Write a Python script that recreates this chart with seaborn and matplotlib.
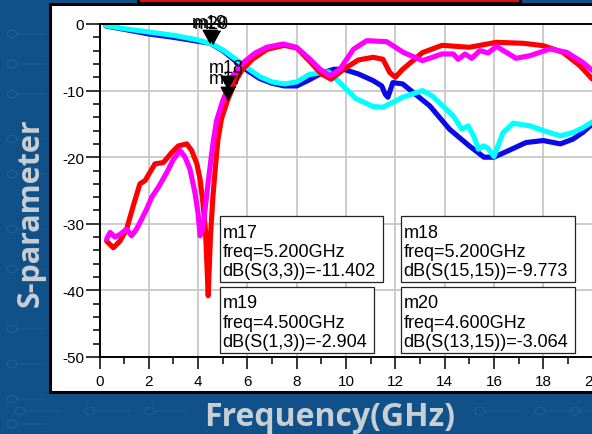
import numpy as np
import pandas as pd
import matplotlib
matplotlib.use("Agg")
import matplotlib.pyplot as plt
import seaborn as sns
from matplotlib.patches import Rectangle, Circle
from matplotlib.lines import Line2D

# ---------------- data ----------------
blue_x = [0.26, 1.0, 2.0, 3.0, 4.0, 4.5, 5.0, 5.5, 6.0, 6.5, 7.0, 7.5, 8.0, 8.5, 9.0,
          9.5, 9.9, 10.5, 11.1, 11.45, 11.6, 11.7, 11.9, 12.3, 12.8, 13.4, 14.2, 15.0,
          15.6, 16.0, 16.6, 17.3, 18.0, 18.7, 19.2, 19.6, 20.0]
blue_y = [-0.3, -0.8, -1.5, -2.0, -2.6, -2.9, -4.0, -5.5, -7.0, -8.2, -8.9, -9.3, -9.3,
          -8.4, -7.4, -6.8, -6.8, -7.5, -8.5, -9.3, -10.6, -11.0, -8.8, -9.0, -10.5,
          -12.3, -15.8, -18.3, -20.0, -20.0, -19.0, -17.8, -17.5, -18.0, -17.3, -16.3, -15.0]

cyan_x = [0.26, 1.0, 2.0, 3.0, 4.0, 4.6, 5.0, 5.5, 6.0, 6.5, 7.0, 7.5, 8.0, 8.5, 9.0,
          9.3, 9.75, 10.4, 11.1, 11.5, 12.3, 13.1, 13.5, 14.35, 14.7, 14.96, 15.2,
          15.37, 15.57, 15.75, 16.0, 16.37, 16.78, 17.47, 18.0, 18.7, 19.2, 19.6, 20.0]
cyan_y = [-0.25, -0.7, -1.2, -1.7, -2.4, -3.064, -3.9, -5.2, -6.6, -7.9, -8.7, -9.0, -8.7,
          -7.6, -7.3, -7.2, -8.8, -11.2, -12.4, -12.5, -11.0, -10.0, -10.8, -13.8, -15.8,
          -15.3, -17.0, -18.8, -18.3, -18.6, -19.9, -16.3, -14.9, -15.3, -16.0, -16.8,
          -16.3, -15.6, -14.7]

red_x = [0.29, 0.56, 0.83, 1.1, 1.37, 1.64, 1.85, 2.25, 2.59, 2.93, 3.2, 3.54, 3.74,
         3.95, 4.08, 4.2, 4.3, 4.41, 4.5, 4.6, 4.7, 4.8, 4.95, 5.2, 5.5, 5.8, 6.2, 6.8,
         7.5, 8.0, 8.5, 9.0, 9.4, 9.9, 10.5, 11.1, 11.5, 11.78, 12.0, 12.3, 13.1, 13.9,
         15.0, 16.1, 17.2, 18.0, 18.8, 19.5, 20.0]
red_y = [-32.6, -33.6, -32.6, -30.8, -27.3, -24.0, -23.5, -21.0, -20.8, -19.3, -18.3,
         -18.0, -19.0, -21.0, -23.3, -27.0, -31.0, -40.8, -32.0, -26.0, -21.5, -17.5,
         -14.2, -11.402, -8.7, -6.8, -5.3, -3.8, -3.2, -3.6, -5.5, -7.5, -8.3, -6.8,
         -5.4, -5.0, -5.3, -7.3, -8.0, -6.8, -4.3, -3.2, -3.5, -2.75, -2.9, -3.25,
         -4.25, -6.3, -8.3]

mag_x = [0.29, 0.43, 0.63, 0.83, 1.1, 1.3, 1.5, 1.71, 1.91, 2.12, 2.39, 2.73, 3.0,
         3.27, 3.47, 3.67, 3.87, 4.0, 4.08, 4.2, 4.4, 4.6, 4.75, 5.0, 5.2, 5.4, 5.83,
         6.3, 6.78, 7.45, 8.0, 8.54, 8.95, 9.35, 9.75, 10.3, 10.84, 11.65, 12.32, 13.1,
         13.9, 14.35, 14.55, 14.83, 15.1, 15.43, 15.77, 16.1, 16.5, 16.9, 17.47, 18.27,
         18.95, 19.6, 20.0]
mag_y = [-32.3, -31.3, -32.0, -31.6, -30.8, -31.8, -30.8, -29.3, -27.8, -26.0, -24.5,
         -22.3, -20.3, -19.0, -20.0, -21.8, -25.3, -28.5, -31.8, -30.5, -24.0, -18.0,
         -14.5, -11.5, -9.773, -7.8, -5.8, -4.4, -3.5, -3.0, -3.5, -5.3, -6.8, -7.8,
         -6.8, -3.8, -2.5, -2.65, -4.25, -5.5, -4.5, -4.5, -5.3, -4.5, -5.15, -4.0,
         -4.35, -3.35, -4.25, -5.15, -4.75, -3.75, -4.25, -5.75, -7.0]

marker_names = ["m17", "m18", "m19", "m20"]
marker_freq = [5.2, 5.2, 4.5, 4.6]
marker_db = [-11.402, -9.773, -2.904, -3.064]
marker_expr = ["dB(S(3,3))", "dB(S(15,15))", "dB(S(1,3))", "dB(S(13,15))"]

x_ticks = [0, 2, 4, 6, 8, 10, 12, 14, 16, 18, 20]
y_ticks = [-50, -40, -30, -20, -10, 0]

# ---------------- figure ----------------
sns.set_theme(style="white")
plt.rcParams['font.family'] = ['Liberation Sans', 'DejaVu Sans']

W, H = 592, 435
BG = '#0f5188'
fig = plt.figure(figsize=(W / 100, H / 100), dpi=100, facecolor=BG)


def fx(px):
    return px / W


def fy(py):
    return 1 - py / H


def frect(x0, y0, x1, y1, **kw):
    r = Rectangle((fx(x0), fy(y1)), fx(x1) - fx(x0), fy(y0) - fy(y1),
                  transform=fig.transFigure, **kw)
    fig.patches.append(r)
    return r


# faint circuit-board texture on the blue background
PAT = '#3a78ab'
for cy in [35, 65, 95, 140, 175, 230, 270, 330, 365, 400, 425]:
    fig.patches.append(Circle((fx(12), fy(cy)), 5 / W, transform=fig.transFigure,
                              facecolor='none', edgecolor=PAT, lw=1.1, alpha=0.3, zorder=-9))
    fig.lines.append(Line2D([fx(17), fx(45)], [fy(cy), fy(cy)], transform=fig.transFigure,
                            color=PAT, lw=1.1, alpha=0.22, zorder=-9))
for cx in [20, 90, 150, 480, 540, 575]:
    fig.patches.append(Circle((fx(cx), fy(412)), 5 / W, transform=fig.transFigure,
                              facecolor='none', edgecolor=PAT, lw=1.1, alpha=0.3, zorder=-9))
    fig.lines.append(Line2D([fx(cx + 5), fx(cx + 40)], [fy(412), fy(412)],
                            transform=fig.transFigure, color=PAT, lw=1.1, alpha=0.2, zorder=-9))

# white panel and red header strip
frect(50, 5, 640, 393, facecolor='white', edgecolor='black', lw=2.2, zorder=-5)
frect(138, -10, 520, 4, facecolor='#d81010', edgecolor='black', lw=2.0, zorder=-4)

ax = fig.add_axes([fx(99.5), fy(358), fx(592.5) - fx(99.5), fy(25) - fy(358)])
ax.set_facecolor('white')

series = [
    (blue_x, blue_y, '#0a0ae6'),
    (cyan_x, cyan_y, '#00ffff'),
    (red_x, red_y, '#ff0000'),
    (mag_x, mag_y, '#ff00ff'),
]
for xs, ys, c in series:
    df = pd.DataFrame({'freq': xs, 'db': ys})
    sns.lineplot(data=df, x='freq', y='db', color=c, lw=3.7, sort=False,
                 estimator=None, ax=ax, solid_joinstyle='round', solid_capstyle='round')

ax.set_xlim(0, 20)
ax.set_ylim(-50, 0)
ax.set_xticks(x_ticks)
ax.set_xticks(np.arange(0, 21, 1), minor=True)
ax.set_yticks(y_ticks)
ax.set_yticks(np.arange(-50, 1, 2), minor=True)
ax.set_xticklabels([str(v) for v in x_ticks])
ax.set_yticklabels([str(v) for v in y_ticks])
ax.grid(True, which='major', color='#c8c8c8', lw=1.3)
ax.set_axisbelow(True)
ax.tick_params(axis='both', which='both', direction='out', colors='black',
               labelsize=11, width=1.1, bottom=True, left=True)
ax.tick_params(axis='y', which='major', length=10, pad=1)
ax.tick_params(axis='y', which='minor', length=5)
ax.tick_params(axis='x', which='major', length=8.5, pad=4)
ax.tick_params(axis='x', which='minor', length=5)
for s in ax.spines.values():
    s.set_color('black')
    s.set_linewidth(1.4)
ax.set_xlabel('')
ax.set_ylabel('')

# marker triangles (tip at the data point) and their names
tri = [(0, 0), (-0.55, 1), (0.55, 1)]
ax.plot(marker_freq, marker_db, linestyle='none', marker=tri, markersize=19,
        color='black', clip_on=False, zorder=10)
for name, fq, db in zip(marker_names, marker_freq, marker_db):
    ax.annotate(name, (fq, db), xytext=(-1, 12), textcoords='offset points',
                ha='center', va='baseline', fontsize=13, color='black',
                zorder=11, annotation_clip=False)

# marker readout boxes
boxes = {
    'm17': (220, 217, 383, 283),
    'm18': (401, 217, 575, 283),
    'm19': (220, 288, 374, 354),
    'm20': (401, 288, 575, 354),
}
for name, fq, db, ex in zip(marker_names, marker_freq, marker_db, marker_expr):
    x0, y0, x1, y1 = boxes[name]
    frect(x0, y0, x1, y1, facecolor='white', edgecolor='#222222', lw=0.9, zorder=20)
    lines = [name, f"freq={fq:.3f}GHz", f"{ex}={db:.3f}"]
    for i, t in enumerate(lines):
        fig.text(fx(x0 + 2.5), fy(y0 + 20.5 + 19.5 * i), t, ha='left', va='baseline',
                 fontsize=13, color='black', zorder=21)

# axis titles on the blue background
fig.text(fx(31), fy(213), 'S-parameter', rotation=90, ha='center', va='center',
         fontsize=22, fontweight='bold', color='#c9ced3', family=['Open Sans', 'DejaVu Sans'])
fig.text(fx(330), fy(418), 'Frequency(GHz)', ha='center', va='center',
         fontsize=23, fontweight='bold', color='#c9ced3', family=['Open Sans', 'DejaVu Sans'])

fig.savefig('out.png', dpi=100, facecolor=BG)
